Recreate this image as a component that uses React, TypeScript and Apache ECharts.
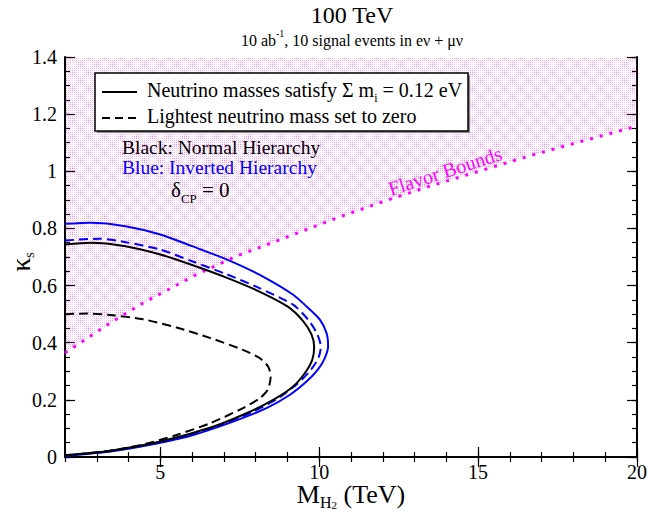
import React, { useEffect, useRef } from "react";
import * as echarts from "echarts";

// ---- data ----
const xTickValues = [5, 10, 15, 20];
const nhSumMass: [number, number][] = [
  [2, 0.744], [2.8, 0.75], [3.9, 0.738], [5, 0.709], [6, 0.672], [7.1, 0.627], [8.1, 0.58],
  [9, 0.527], [9.5, 0.475], [9.76, 0.428], [9.84, 0.385], [9.78, 0.34],
  [9.55, 0.294], [9.18, 0.247], [8.55, 0.2], [7.71, 0.153], [6.66, 0.106], [5, 0.054],
  [3.42, 0.022], [2, 0.006],
];
const ihSumMass: [number, number][] = [
  [2, 0.816], [2.8, 0.82], [3.9, 0.808], [5, 0.779], [6, 0.738], [7.1, 0.691], [8.1, 0.639],
  [9.18, 0.568], [9.6, 0.527], [10.02, 0.481], [10.23, 0.434], [10.28, 0.387], [10.15, 0.34],
  [9.95, 0.305], [9.6, 0.264], [9.08, 0.218], [8.34, 0.171], [7.29, 0.124], [6.03, 0.077],
  [5, 0.05], [3.42, 0.019], [2, 0.004],
];
const ihLightestZero: [number, number][] = [
  [2, 0.758], [3.1, 0.764], [3.9, 0.752], [5, 0.726], [6, 0.685], [7.1, 0.639], [8.1, 0.592],
  [9.18, 0.533], [9.65, 0.481], [9.92, 0.434], [10.05, 0.387], [9.97, 0.345], [9.7, 0.3],
  [9.3, 0.255], [8.7, 0.205], [7.9, 0.158], [6.9, 0.112], [5.8, 0.072], [5, 0.051],
  [3.42, 0.02], [2, 0.005],
];
const nhLightestZero: [number, number][] = [
  [2, 0.5], [2.7, 0.502], [3.42, 0.497], [4.46, 0.482], [5.51, 0.453], [6.56, 0.417],
  [7.6, 0.375], [8.13, 0.346], [8.4, 0.315], [8.47, 0.28], [8.38, 0.235], [8.13, 0.206],
  [7.6, 0.171], [6.56, 0.118], [5.51, 0.077], [4.5, 0.045], [3.4, 0.022], [2, 0.006],
];
const flavorBound: [number, number][] = [
  [2, 0.364], [3.42, 0.469], [4.46, 0.539], [6.14, 0.639], [7.4, 0.703], [8.87, 0.765],
  [10.44, 0.832], [11.96, 0.892], [13.48, 0.948], [15.05, 1.001], [16.62, 1.054],
  [18.2, 1.103], [20, 1.158],
];

const FONT = "'Liberation Serif', 'Times New Roman', serif";

function makePattern() {
  const size = 16;
  const c = document.createElement("canvas");
  c.width = size;
  c.height = size;
  const ctx = c.getContext("2d")!;
  for (let i = 0; i < size; i++) {
    for (let j = 0; j < size; j++) {
      const m = 0.5 + 0.5 * Math.cos((2 * Math.PI * i) / size) * Math.cos((2 * Math.PI * j) / size);
      let a = 0;
      if (i % 2 === 0 && j % 2 === 0) a = 0.1 + 0.45 * m;
      else if (i % 2 === 1 && j % 2 === 1) a = 0.04;
      if (a <= 0) continue;
      ctx.fillStyle = `rgba(255,0,255,${a.toFixed(3)})`;
      ctx.fillRect(i, j, 1, 1);
    }
  }
  return { image: c, repeat: "repeat", imageWidth: size, imageHeight: size };
}

export default function App() {
  const ref = useRef<HTMLDivElement>(null);
  useEffect(() => {
    const chart = echarts.init(ref.current!, null, { renderer: "svg" });
    const axisCommon = {
      type: "value",
      splitLine: { show: false },
    };
    const majorX = {
      ...axisCommon,
      min: 2,
      max: 20,
      axisLine: { show: true, lineStyle: { color: "#000", width: 2 } },
      axisTick: { show: true, inside: true, length: 10, customValues: xTickValues, lineStyle: { color: "#000", width: 1.2 } },
    };
    const minorX = {
      ...axisCommon,
      min: 2,
      max: 20,
      interval: 1,
      axisLine: { show: false },
      axisTick: { show: true, inside: true, length: 5, lineStyle: { color: "#000", width: 1.2 } },
      axisLabel: { show: false },
    };
    const majorY = {
      ...axisCommon,
      min: 0,
      max: 1.4,
      interval: 0.2,
      axisLine: { show: true, lineStyle: { color: "#000", width: 2 } },
      axisTick: { show: true, inside: true, length: 10, lineStyle: { color: "#000", width: 1.2 } },
    };
    const minorY = {
      ...axisCommon,
      min: 0,
      max: 1.4,
      interval: 0.05,
      axisLine: { show: false },
      axisTick: { show: true, inside: true, length: 5, lineStyle: { color: "#000", width: 1.2 } },
      axisLabel: { show: false },
    };
    const curve = (data: [number, number][], color: string, dashed: boolean) => ({
      type: "line",
      data,
      xAxisIndex: 0,
      yAxisIndex: 0,
      showSymbol: false,
      smooth: 0.25,
      z: 5,
      lineStyle: { color, width: 2, type: dashed ? [9, 5] : "solid" },
    });
    chart.setOption({
      animation: false,
      grid: { left: 65, right: 13, top: 57, bottom: 58, containLabel: false, outerBoundsMode: "none" },
      xAxis: [
        {
          ...majorX,
          position: "bottom",
          axisLabel: { show: true, customValues: xTickValues, color: "#000", fontSize: 20, fontFamily: FONT, margin: 5 },
          name: "M{sub|H}{sub2|2} (TeV)",
          nameLocation: "middle",
          nameGap: 21,
          nameMoveOverlap: false,
          nameTextStyle: {
            color: "#000",
            fontSize: 26,
            fontFamily: FONT,
            lineHeight: 32,
            rich: {
              sub: { fontSize: 16, fontFamily: FONT, color: "#000", verticalAlign: "bottom", lineHeight: 18 },
              sub2: { fontSize: 11, fontFamily: FONT, color: "#000", verticalAlign: "bottom", lineHeight: 4 },
            },
          },
        },
        { ...minorX, position: "bottom" },
        { ...majorX, position: "top", axisLabel: { show: false } },
        { ...minorX, position: "top" },
      ],
      yAxis: [
        {
          ...majorY,
          position: "left",
          axisLabel: { show: true, color: "#000", fontSize: 20, fontFamily: FONT, margin: 8 },
        },
        { ...minorY, position: "left" },
        { ...majorY, position: "right", axisLabel: { show: false } },
        { ...minorY, position: "right" },
      ],
      series: [
        {
          type: "line",
          data: flavorBound,
          xAxisIndex: 0,
          yAxisIndex: 0,
          showSymbol: false,
          z: 1,
          lineStyle: { color: "#ff00ff", width: 3, type: [3, 7], cap: "butt" },
          areaStyle: { origin: "end", color: makePattern(), opacity: 1 },
        },
        curve(ihSumMass, "#0000ff", false),
        curve(ihLightestZero, "#0000ff", true),
        curve(nhSumMass, "#000000", false),
        curve(nhLightestZero, "#000000", true),
      ],
      graphic: [
        {
          type: "text",
          x: 352,
          y: 15,
          z: 100,
          style: { text: "100 TeV", fontSize: 24, fontFamily: FONT, fill: "#000", align: "center", verticalAlign: "middle", textAlign: "center", textVerticalAlign: "middle" },
        },
        {
          type: "text",
          x: 352,
          y: 38,
          z: 100,
          style: {
            text: "{n|10 ab}{sup|-1}{n|, 10 signal events in eν + μν}",
            align: "center",
            verticalAlign: "middle",
            textAlign: "center",
            textVerticalAlign: "middle",
            rich: {
              n: { fontSize: 16, fontFamily: FONT, fill: "#000", color: "#000", lineHeight: 20, verticalAlign: "bottom" },
              sup: { fontSize: 10, fontFamily: FONT, fill: "#000", color: "#000", lineHeight: 10, verticalAlign: "top" },
            },
          },
        },
        // y-axis title
        {
          type: "text",
          x: 21,
          y: 262,
          z: 100,
          rotation: Math.PI / 2,
          style: {
            text: "{n|κ}{sub|s}",
            align: "center",
            verticalAlign: "middle",
            textAlign: "center",
            textVerticalAlign: "middle",
            rich: {
              n: { fontSize: 28, fontFamily: FONT, color: "#000", fill: "#000", lineHeight: 30, verticalAlign: "top" },
              sub: { fontSize: 14, fontFamily: FONT, color: "#000", fill: "#000", lineHeight: 12, verticalAlign: "bottom" },
            },
          },
        },
        // legend box shadow + box
        { type: "rect", z: 100, shape: { x: 97, y: 75, width: 373, height: 58 }, style: { fill: "#888" } },
        { type: "rect", z: 101, shape: { x: 95, y: 73, width: 373, height: 58 }, style: { fill: "#fff", stroke: "#000", lineWidth: 1.5 } },
        { type: "line", z: 102, shape: { x1: 102, y1: 92, x2: 137, y2: 92 }, style: { stroke: "#000", lineWidth: 2 } },
        { type: "line", z: 102, shape: { x1: 102, y1: 118, x2: 137, y2: 118 }, style: { stroke: "#000", lineWidth: 2, lineDash: [8, 5] } },
        {
          type: "text",
          x: 147,
          y: 90,
          z: 102,
          style: {
            text: "{n|Neutrino masses satisfy Σ m}{sub|i}{n| = 0.12 eV}",
            verticalAlign: "middle",
            textVerticalAlign: "middle",
            rich: {
              n: { fontSize: 20, fontFamily: FONT, color: "#000", fill: "#000", lineHeight: 28, verticalAlign: "middle" },
              sub: { fontSize: 12, fontFamily: FONT, color: "#000", fill: "#000", lineHeight: 10, verticalAlign: "bottom" },
            },
          },
        },
        {
          type: "text",
          x: 147,
          y: 116,
          z: 102,
          style: { text: "Lightest neutrino mass set to zero", fontSize: 20, fontFamily: FONT, fill: "#000", verticalAlign: "middle", textVerticalAlign: "middle" },
        },
        {
          type: "text",
          x: 122,
          y: 147,
          z: 100,
          style: { text: "Black: Normal Hierarchy", fontSize: 19.5, fontFamily: FONT, fill: "#000", verticalAlign: "middle", textVerticalAlign: "middle" },
        },
        {
          type: "text",
          x: 122,
          y: 167,
          z: 100,
          style: { text: "Blue: Inverted Hierarchy", fontSize: 19.5, fontFamily: FONT, fill: "#0000ff", verticalAlign: "middle", textVerticalAlign: "middle" },
        },
        {
          type: "text",
          x: 171,
          y: 192,
          z: 100,
          style: {
            text: "{n|δ}{sub|CP}{n| = 0}",
            verticalAlign: "middle",
            textVerticalAlign: "middle",
            rich: {
              n: { fontSize: 21, fontFamily: FONT, color: "#000", fill: "#000", lineHeight: 26, verticalAlign: "top" },
              sub: { fontSize: 13, fontFamily: FONT, color: "#000", fill: "#000", lineHeight: 12, verticalAlign: "bottom" },
            },
          },
        },
        {
          type: "text",
          x: 445,
          y: 171,
          z: 100,
          rotation: (18 * Math.PI) / 180,
          style: { text: "Flavor Bounds", fontSize: 20, fontFamily: FONT, fill: "#ff00ff", align: "center", verticalAlign: "middle", textAlign: "center", textVerticalAlign: "middle" },
        },
      ],
    });
    return () => chart.dispose();
  }, []);
  return <div ref={ref} style={{ width: 650, height: 515, position: "absolute", left: 0, top: 0 }} />;
}
